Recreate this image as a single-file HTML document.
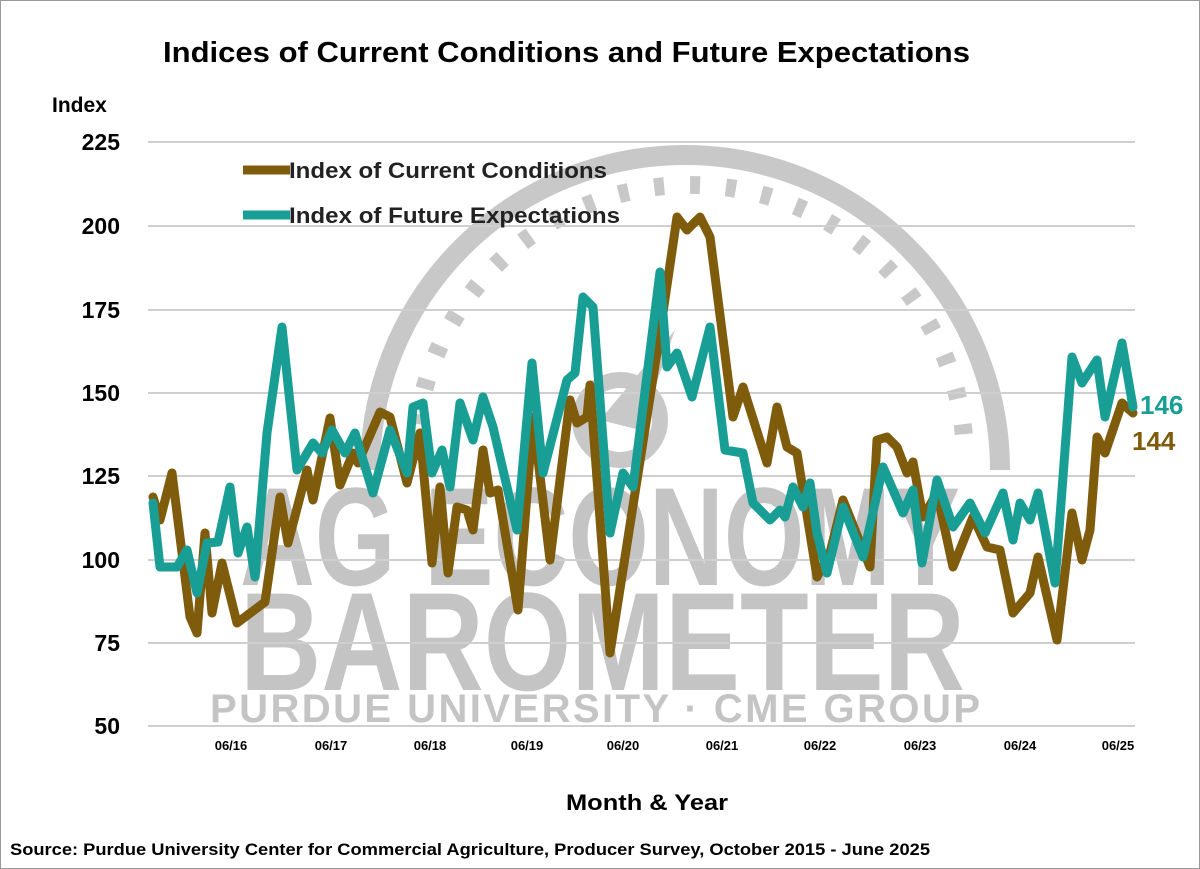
<!DOCTYPE html>
<html><head><meta charset="utf-8"><style>
html,body{margin:0;padding:0;background:#fff;}
svg{display:block;font-family:"Liberation Sans",sans-serif;}
</style></head><body>
<svg width="1200" height="869" viewBox="0 0 1200 869" xmlns="http://www.w3.org/2000/svg">
<rect x="0.5" y="0.5" width="1199" height="868" fill="#fff" stroke="#999"/>
<!-- watermark -->
<g fill="none" stroke="#c8c8c8">
<path d="M370,470 A300,300 0 1 1 1000,470" stroke-width="20"/>
<path d="M415,460 A255,255 0 1 1 965,460" stroke-width="18" stroke-dasharray="10,26"/>
</g>
<polygon points="600,420 675,330 640,430" fill="#c8c8c8"/>
<circle cx="620" cy="420" r="40" fill="none" stroke="#c8c8c8" stroke-width="16"/>
<g fill="#c4c4c4" font-weight="bold">
<text x="240" y="585" font-size="140" textLength="720" lengthAdjust="spacingAndGlyphs">AG ECONOMY</text>
<text x="240" y="690" font-size="140" textLength="725" lengthAdjust="spacingAndGlyphs">BAROMETER</text>
<text x="210" y="722" font-size="40" textLength="770" lengthAdjust="spacing">PURDUE UNIVERSITY · CME GROUP</text>
</g>
<!-- grid -->
<g stroke="#cfcfcf" stroke-width="2">
<line x1="148" x2="1135" y1="142" y2="142"/><line x1="148" x2="1135" y1="226" y2="226"/>
<line x1="148" x2="1135" y1="310" y2="310"/><line x1="148" x2="1135" y1="393" y2="393"/>
<line x1="148" x2="1135" y1="476" y2="476"/><line x1="148" x2="1135" y1="560" y2="560"/>
<line x1="148" x2="1135" y1="643" y2="643"/><line x1="148" x2="1135" y1="726" y2="726"/>
</g>
<text x="163" y="62" font-size="29" font-weight="bold" textLength="807" lengthAdjust="spacingAndGlyphs">Indices of Current Conditions and Future Expectations</text>
<text x="52" y="112" font-size="21" font-weight="bold">Index</text>
<g font-size="23" font-weight="bold" text-anchor="end">
<text x="120" y="150">225</text><text x="120" y="234">200</text><text x="120" y="318">175</text>
<text x="120" y="401">150</text><text x="120" y="484">125</text><text x="120" y="568">100</text>
<text x="120" y="651">75</text><text x="120" y="734">50</text>
</g>
<g font-size="13" font-weight="bold" text-anchor="middle">
<text x="231" y="750">06/16</text><text x="331" y="750">06/17</text><text x="430" y="750">06/18</text>
<text x="527" y="750">06/19</text><text x="623" y="750">06/20</text><text x="722" y="750">06/21</text>
<text x="820" y="750">06/22</text><text x="920" y="750">06/23</text><text x="1020" y="750">06/24</text>
<text x="1118" y="750">06/25</text>
</g>
<text x="566" y="810" font-size="22" font-weight="bold" textLength="162" lengthAdjust="spacingAndGlyphs">Month &amp; Year</text>
<text x="10" y="855" font-size="17" font-weight="bold" textLength="920" lengthAdjust="spacingAndGlyphs">Source: Purdue University Center for Commercial Agriculture, Producer Survey, October 2015 - June 2025</text>
<!-- legend -->
<line x1="243" y1="170" x2="290" y2="170" stroke="#7f5c0c" stroke-width="9"/>
<text x="289" y="178" font-size="22" font-weight="bold" fill="#222" textLength="318" lengthAdjust="spacingAndGlyphs">Index of Current Conditions</text>
<line x1="243" y1="215" x2="290" y2="215" stroke="#189e94" stroke-width="9"/>
<text x="289" y="223" font-size="22" font-weight="bold" fill="#222" textLength="331" lengthAdjust="spacingAndGlyphs">Index of Future Expectations</text>
<g fill="none" stroke-width="9" stroke-linejoin="round" stroke-linecap="round">
<polyline stroke="#7f5c0c" points="153,497 160,520 172,473 190,617 197,633 205,533 212,613 222,563 237,623 265,602 280,497 288,543 307,470 313,500 330,418 340,485 353,453 358,463 380,412 390,417 407,483 420,433 432,563 440,487 448,573 457,507 467,510 473,530 483,450 490,493 498,490 518,610 533,417 550,560 570,400 577,423 587,417 590,385 610,653 660,333 677,217 687,230 700,217 710,237 733,417 743,387 767,463 777,407 787,447 797,453 803,490 817,577 830,553 843,500 855,530 870,567 877,440 887,437 897,447 907,473 913,462 923,517 937,493 953,567 973,517 987,547 1000,550 1013,613 1030,593 1038,557 1057,640 1072,513 1082,560 1090,530 1097,437 1105,453 1122,403 1133,413"/>
<polyline stroke="#189e94" points="153,503 160,567 177,567 187,550 197,593 207,543 218,542 230,487 238,553 247,527 255,577 267,433 282,327 297,470 313,443 322,453 332,430 345,453 355,433 373,493 390,430 407,473 413,407 423,403 432,473 442,450 450,487 460,403 473,440 483,397 493,427 517,530 532,363 543,473 567,380 575,373 583,297 593,307 610,533 623,473 633,487 660,272 667,367 677,353 692,397 710,327 725,450 743,453 753,503 770,520 780,510 785,517 793,487 803,507 810,483 817,533 827,573 843,507 863,557 883,467 903,513 913,490 922,563 937,480 953,527 970,503 985,533 1003,493 1013,540 1020,503 1030,520 1038,493 1055,583 1072,357 1082,383 1097,360 1105,417 1122,343 1133,407"/>
</g>
<text x="1140" y="414" font-size="26" font-weight="bold" fill="#189e94">146</text>
<text x="1132" y="450" font-size="26" font-weight="bold" fill="#7f5c0c">144</text>
</svg>
</body></html>
